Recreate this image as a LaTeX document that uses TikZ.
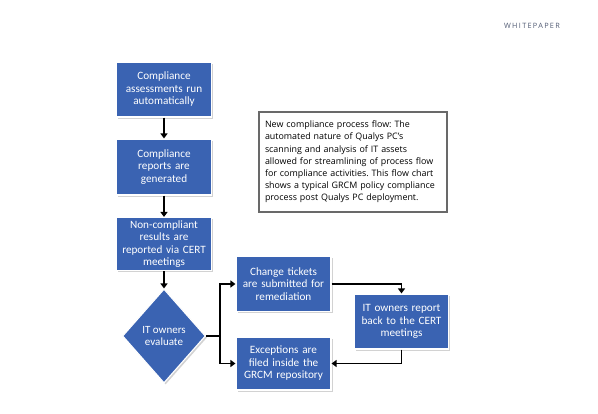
\documentclass[tikz,border=0pt]{standalone}
\usepackage{fontspec}
\setmainfont{Open Sans}
\newfontfamily\wpfont[LetterSpace=18]{Open Sans}
\newfontfamily\boxfont{Carlito}
\usetikzlibrary{shapes.geometric,shadows,arrows.meta}
\frenchspacing
\definecolor{boxblue}{RGB}{58,99,178}
\definecolor{wpgray}{RGB}{80,90,115}
\definecolor{framegray}{RGB}{105,105,105}
\tikzset{
  flowbox/.style={rectangle, fill=boxblue, draw=white, line width=1.1pt,
    minimum width=95pt, minimum height=55pt, text width=92pt, align=center,
    text=white, inner sep=1pt,
    font=\boxfont\fontsize{11.2}{12.5}\selectfont,
    drop shadow={opacity=0.35, shadow xshift=1.6pt, shadow yshift=-1.6pt}},
  flowdiamond/.style={diamond, fill=boxblue, draw=white, line width=1.1pt,
    minimum width=83pt, minimum height=94pt, inner sep=0pt, align=center,
    text=white, font=\boxfont\fontsize{11}{12.5}\selectfont,
    drop shadow={opacity=0.35, shadow xshift=1.6pt, shadow yshift=-1.6pt}},
  flowarrow/.style={draw=black, line width=2.4pt, -{Triangle[width=7pt,length=5pt]}},
  notebox/.style={rectangle, draw=framegray, line width=1.1pt, fill=white,
    minimum width=188pt, minimum height=100pt, text width=176pt, align=left,
    inner sep=6pt, font=\fontsize{8.9}{12.2}\selectfont}
}
\begin{document}
\begin{tikzpicture}[x=1pt,y=-1pt]
\useasboundingbox (0,0) rectangle (598,413);
\fill[white] (0,0) rectangle (598,413);
\node[text=wpgray, font=\wpfont\fontsize{7.3}{9}\selectfont] (wp) at (532,26) {WHITEPAPER};

\node[flowbox] (b1) at (164,89.5) {Compliance\\assessments run\\automatically};
\node[flowbox, minimum height=56pt] (b2) at (164,167) {Compliance\\reports are\\generated};
\node[flowbox, minimum height=53pt] (b3) at (164,244) {Non-compliant\\results are\\reported via CERT\\meetings};
\node[flowdiamond] (d) at (164,336) {IT owners\\evaluate};
\node[flowbox] (c1) at (283.5,284) {Change tickets\\are submitted for\\remediation};
\node[flowbox, minimum height=53pt] (c2) at (283.5,363.5) {Exceptions are\\filed inside the\\GRCM repository};
\node[flowbox, minimum width=93pt] (r) at (401.5,321.5) {IT owners report\\back to the CERT\\meetings};

\node[notebox] (note) at (353,162) {New compliance process flow: The\\automated nature of Qualys PC's\\scanning and analysis of IT assets\\allowed for streamlining of process flow\\for compliance activities. This flow chart\\shows a typical GRCM policy compliance\\process post Qualys PC deployment.};

\coordinate (split) at (220,336);
\draw[flowarrow] (b1.south) -- (b2.north);
\draw[flowarrow] (b2.south) -- (b3.north);
\draw[flowarrow] (b3.south) -- (d.north);
\draw[flowarrow, line width=1.9pt] (d.east) -- (split) |- (c1.west);
\draw[flowarrow, line width=1.9pt] (split) |- (c2.west);
\draw[flowarrow, line width=1.9pt] (c1.east) -| (r.north);
\draw[flowarrow, line width=1.9pt] (r.south) |- (c2.east);
\end{tikzpicture}
\end{document}
